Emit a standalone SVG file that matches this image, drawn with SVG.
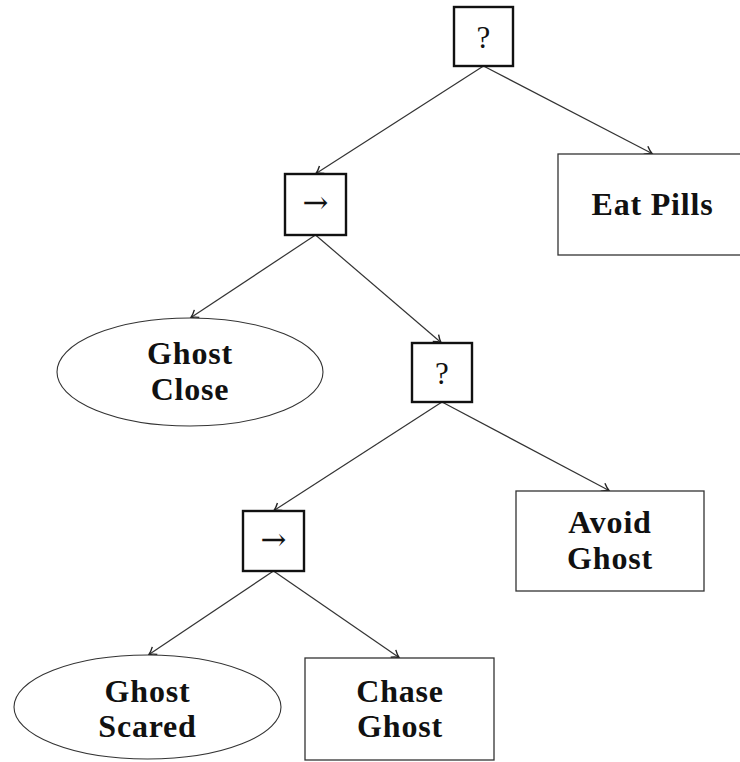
<svg xmlns="http://www.w3.org/2000/svg" width="740" height="762" viewBox="0 0 740 762">
<style>
.ctl{fill:#fff;stroke:#111;stroke-width:2.4}
.leaf{fill:#fff;stroke:#333;stroke-width:1.3}
.cond{fill:#fff;stroke:#333;stroke-width:1.1}
.sym{font-family:"Liberation Serif","DejaVu Serif",serif;font-size:31px;fill:#111;text-anchor:middle}
.arrsym{font-family:"DejaVu Serif",serif;font-size:31px;fill:#111;text-anchor:middle}
.lbl{font-family:"Liberation Serif","DejaVu Serif",serif;font-size:32px;font-weight:bold;fill:#111;text-anchor:middle;letter-spacing:0.8px}
.edge{stroke:#333;stroke-width:1.2;fill:none;marker-end:url(#arr)}
</style>
<defs>
<marker id="arr" markerUnits="userSpaceOnUse" markerWidth="12" markerHeight="12" viewBox="-8 -6 9 12" refX="0" refY="0" orient="auto">
<path d="M-7,-4.5 Q-3,-1.2 0,0 Q-3,1.2 -7,4.5" fill="none" stroke="#222" stroke-width="1.4"/>
</marker>
</defs>
<rect width="740" height="762" fill="#fff"/>
<g id="connectors">
<line class="edge" x1="483.5" y1="66" x2="316" y2="173.5"/>
<line class="edge" x1="483.5" y1="66" x2="652" y2="153.5"/>
<line class="edge" x1="315.5" y1="235" x2="191" y2="317.5"/>
<line class="edge" x1="315.5" y1="235" x2="441" y2="342.5"/>
<line class="edge" x1="442" y1="402" x2="274" y2="510.5"/>
<line class="edge" x1="442" y1="402" x2="609" y2="490.5"/>
<line class="edge" x1="273.5" y1="571" x2="149" y2="654.5"/>
<line class="edge" x1="273.5" y1="571" x2="399" y2="657.5"/>
</g>
<g id="fallback1">
<rect class="ctl" x="454" y="7" width="59" height="59"/>
<text class="sym" x="483.5" y="48">?</text>
</g>
<g id="sequence1">
<rect class="ctl" x="285" y="174" width="61" height="61"/>
<text class="arrsym" x="315.5" y="213">→</text>
</g>
<g id="eatPills">
<rect class="leaf" x="558" y="154" width="189" height="101"/>
<text class="lbl" x="652.5" y="215">Eat Pills</text>
</g>
<g id="ghostClose">
<ellipse class="cond" cx="190" cy="372" rx="133" ry="54"/>
<text class="lbl" x="190" y="364">Ghost</text>
<text class="lbl" x="190" y="400">Close</text>
</g>
<g id="fallback2">
<rect class="ctl" x="412" y="343" width="60" height="59"/>
<text class="sym" x="442" y="384">?</text>
</g>
<g id="avoidGhost">
<rect class="leaf" x="516" y="491" width="188" height="100"/>
<text class="lbl" x="610" y="533">Avoid</text>
<text class="lbl" x="610" y="569">Ghost</text>
</g>
<g id="sequence2">
<rect class="ctl" x="243" y="511" width="61" height="60"/>
<text class="arrsym" x="273.5" y="550">→</text>
</g>
<g id="ghostScared">
<ellipse class="cond" cx="147.5" cy="707" rx="133.5" ry="52"/>
<text class="lbl" x="147.5" y="702">Ghost</text>
<text class="lbl" x="147.5" y="737">Scared</text>
</g>
<g id="chaseGhost">
<rect class="leaf" x="305" y="658" width="189" height="102"/>
<text class="lbl" x="400" y="702">Chase</text>
<text class="lbl" x="400" y="737">Ghost</text>
</g>
</svg>
